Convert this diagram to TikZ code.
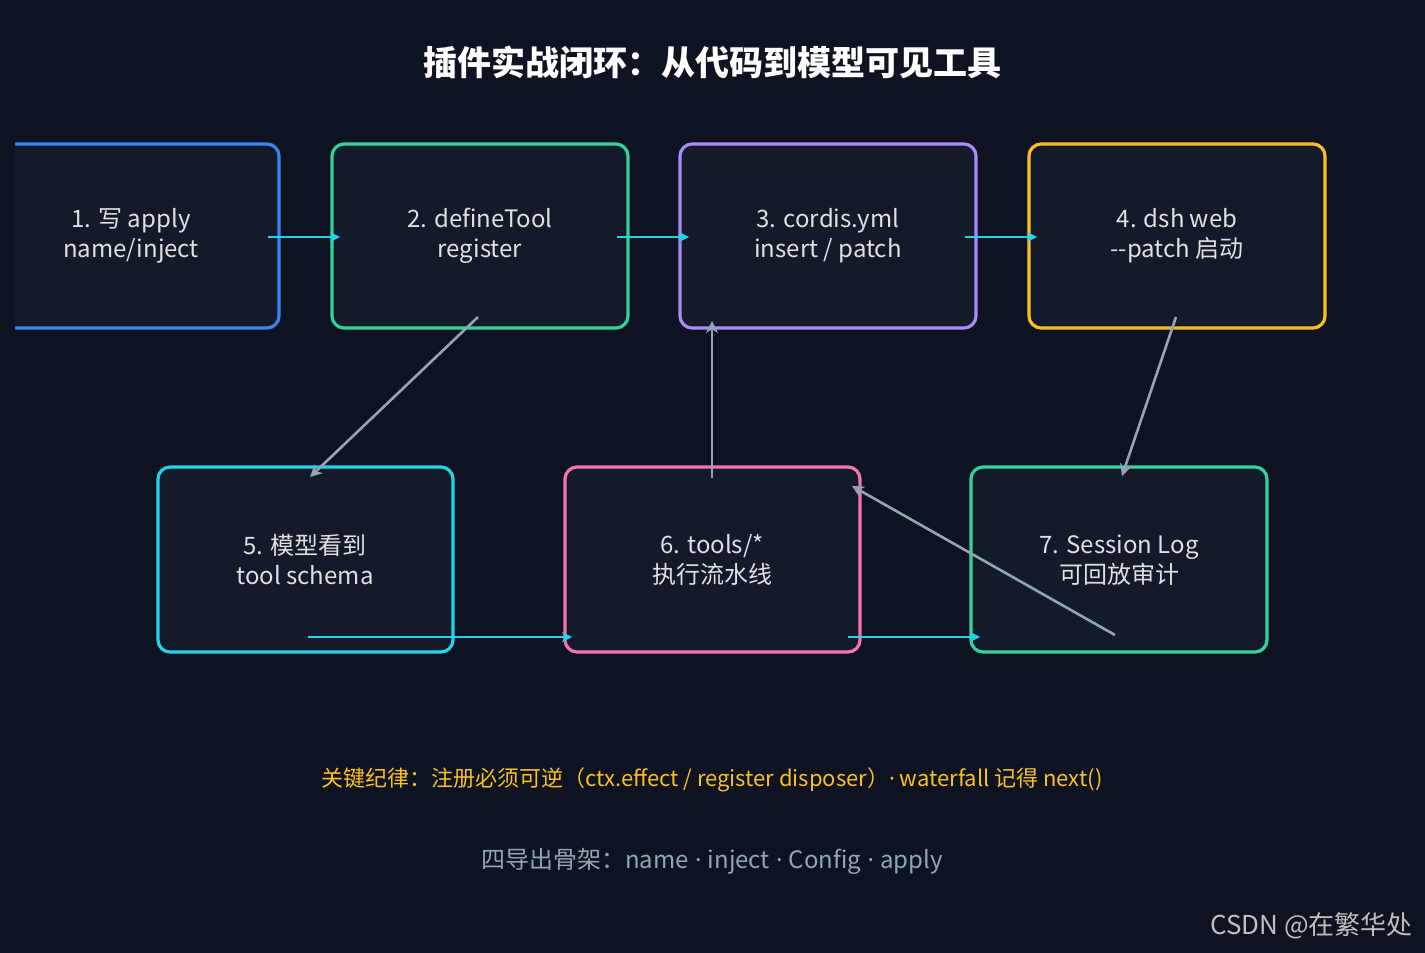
\documentclass[tikz,border=0pt]{standalone}
\usepackage{fontspec}
\setmainfont{Noto Sans CJK SC}
\newfontfamily\latf{Noto Sans}
\usetikzlibrary{arrows.meta}
\definecolor{bgc}{HTML}{0D1320}
\definecolor{boxc}{HTML}{131A2A}
\definecolor{cblue}{HTML}{3B82F6}
\definecolor{cgreen}{HTML}{34D399}
\definecolor{cpurple}{HTML}{A78BFA}
\definecolor{camber}{HTML}{FBBF24}
\definecolor{ccyan}{HTML}{22D3EE}
\definecolor{cpink}{HTML}{F472B6}
\definecolor{cgray}{HTML}{94A3B8}
\newcommand{\dotsep}{{\latf\ ·\ }}
\tikzset{
  stagebox/.style={line width=1.6pt, rounded corners=6pt, fill=boxc},
  lbl/.style={text=white!88!black, align=center, font=\fontsize{12}{15}\selectfont},
  flow/.style={draw=ccyan, line width=1.3pt, -{Stealth[length=5pt,width=5pt]}},
  back/.style={draw=cgray, line width=1.3pt, -{Stealth[length=6pt,width=6pt]}}
}
\begin{document}
\begin{tikzpicture}[x=0.5pt,y=-0.5pt]
\fill[bgc] (0,0) rectangle (1425,953);
\useasboundingbox (0,0) rectangle (1425,953);
\node[text=white, font=\bfseries\fontsize{17}{20}\selectfont] (title) at (712,62) {插件实战闭环：从代码到模型可见工具};
% top row
\begin{scope}
\clip (15,0) rectangle (1425,953);
\draw[stagebox, draw=cblue] (-16,144) rectangle (279,328);
\end{scope}
\draw[stagebox, draw=cgreen] (332,144) rectangle (628,328);
\draw[stagebox, draw=cpurple] (680,144) rectangle (976,328);
\draw[stagebox, draw=camber] (1029,144) rectangle (1325,328);
% bottom row
\draw[stagebox, draw=ccyan] (158,467) rectangle (453,652);
\draw[stagebox, draw=cpink] (565,467) rectangle (860,652);
\draw[stagebox, draw=cgreen] (971,467) rectangle (1267,652);
\node[lbl] (s1) at (131,236) {1. 写 apply\\name/inject};
\node[lbl] (s2) at (480,236) {2. defineTool\\register};
\node[lbl] (s3) at (828,236) {3. cordis.yml\\insert / patch};
\node[lbl] (s4) at (1177,236) {4. dsh web\\-{}-patch 启动};
\node[lbl] (s5) at (305,560) {5. 模型看到\\tool schema};
\node[lbl] (s6) at (712,560) {6. tools/*\\执行流水线};
\node[lbl] (s7) at (1119,560) {7. Session Log\\可回放审计};
% connector end points
\coordinate (a1) at (268,237); \coordinate (b1) at (340,237);
\coordinate (a2) at (617,237); \coordinate (b2) at (689,237);
\coordinate (a3) at (965,237); \coordinate (b3) at (1037,237);
\coordinate (a4) at (478,317); \coordinate (b4) at (310,477);
\coordinate (a5) at (712,478); \coordinate (b5) at (712,321);
\coordinate (a6) at (1176,317); \coordinate (b6) at (1122,476);
\coordinate (a7) at (1115,635); \coordinate (b7) at (852,486);
\coordinate (a8) at (308,637); \coordinate (b8) at (572,637);
\coordinate (a9) at (848,637); \coordinate (b9) at (980,637);
\foreach \i in {1,2,3,8,9} \draw[flow] (a\i) -- (b\i);
\foreach \i in {4,5,6,7} \draw[back] (a\i) -- (b\i);
\node[text=camber, font=\fontsize{11}{13}\selectfont] (rule) at (712,780) {关键纪律：注册必须可逆（ctx.effect / register disposer）{\latf ·} waterfall 记得 next()};
\node[text=cgray, font=\fontsize{12}{14}\selectfont] (skel) at (712,861) {四导出骨架：name\dotsep inject\dotsep Config\dotsep apply};
\node[text=white!75!black, font=\fontsize{13}{15}\selectfont, anchor=east] (wm) at (1420,926) {CSDN @在繁华处};
\end{tikzpicture}
\end{document}
